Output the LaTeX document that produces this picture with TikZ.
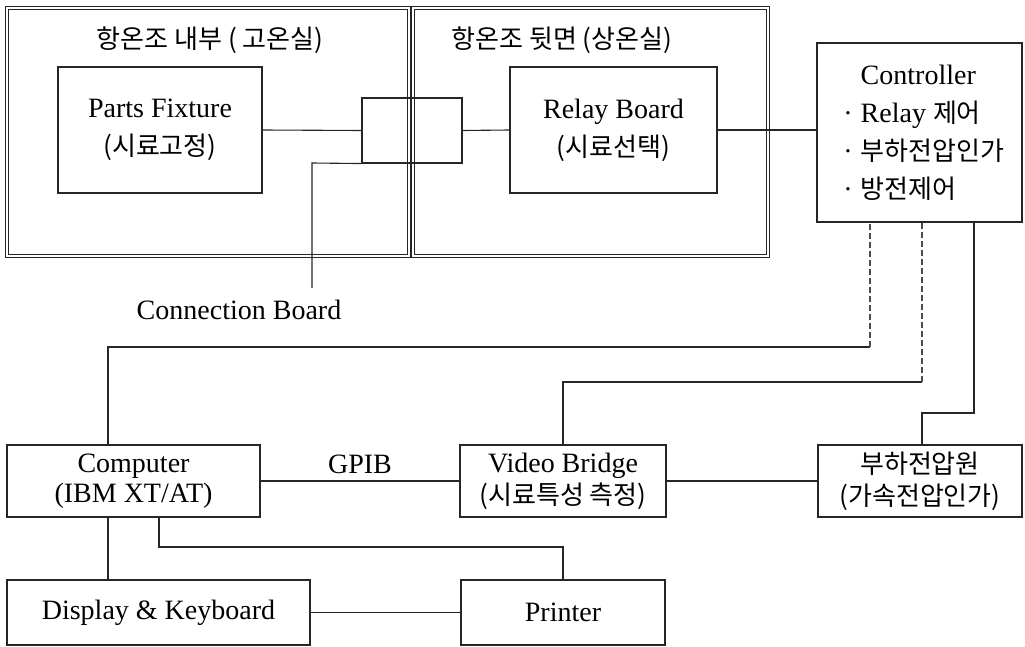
\documentclass[tikz,border=0pt]{standalone}
\usepackage{fontspec}
\setmainfont{Liberation Serif}
\newfontfamily\krfont{Noto Sans CJK KR}[Scale=0.93]
\newcommand\K[1]{{\krfont #1}}
\usetikzlibrary{calc}
\begin{document}
\begin{tikzpicture}[x=0.5pt,y=-0.5pt,
  font=\fontsize{14}{19}\selectfont,
  line/.style={draw=black!85, line width=0.55pt},
  dashline/.style={draw=black!70, line width=0.55pt, dash pattern=on 3pt off 1.5pt},
  box/.style={draw=black!85, line width=0.55pt, rectangle, inner sep=0pt, align=center},
  chamber/.style={draw=black!85, line width=0.5pt, double=white, double distance=1.3pt, rectangle, inner sep=0pt},
  txt/.style={inner sep=0pt, align=center}]
\useasboundingbox (0,0) rectangle (1025,647);

% chambers
\node[chamber, minimum width=201pt, minimum height=124pt] (chA) at (208,132) {};
\node[chamber, minimum width=177.5pt, minimum height=124pt] (chB) at (590.5,132) {};
\node[txt] (tA) at (210,40) {\K{항온조 내부 ( 고온실)}};
\node[txt] (tB) at (562,40) {\K{항온조 뒷면 (상온실)}};

% top boxes
\node[box, minimum width=102pt, minimum height=63pt] (pf) at (160,130) {Parts Fixture\\\K{(시료고정)}};
\node[box, minimum width=103.5pt, minimum height=63pt] (rb) at (613.5,130) {Relay Board\\\K{(시료선택)}};
\node[box, minimum width=50pt, minimum height=32.5pt] (cb) at (412,130.5) {};
\node[box, minimum width=102.5pt, minimum height=89.5pt] (ctrl) at (919.5,132.5) {};
\node[anchor=west, inner sep=0pt] (ctrltxt) at (843,134) {\begin{tabular}{@{}l@{\hspace{4pt}}l@{}}
 & Controller\\
· & Relay \K{제어}\\
· & \K{부하전압인가}\\
· & \K{방전제어}
\end{tabular}};
\node[txt] (cbl) at (239,310) {Connection Board};

% bottom boxes
\node[box, minimum width=126.5pt, minimum height=36pt] (comp) at (133.5,481) {Computer\\[-4pt](IBM XT/AT)};
\node[box, minimum width=103pt, minimum height=36pt] (vb) at (563,481) {Video Bridge\\[-3pt]\K{(시료특성 측정)}};
\node[box, minimum width=102pt, minimum height=36pt] (hv) at (920,481) {\K{부하전압원}\\[-3pt]\K{(가속전압인가)}};
\node[box, minimum width=151.5pt, minimum height=32.5pt] (disp) at (158.5,612.5) {Display \& Keyboard};
\node[box, minimum width=102pt, minimum height=32.5pt] (prn) at (563,612.5) {Printer};

% helper coordinates
\coordinate (x108) at (108,0);
\coordinate (x159) at (159,0);
\coordinate (k1) at (870,347);
\coordinate (k2) at (922,382);
\coordinate (k3) at (974,413);
\coordinate (k4) at (922,413);
\coordinate (k5) at (563,547);
\coordinate (lead) at (312,163);
\coordinate (leadend) at (312,288);

% connectors
\draw[line] (pf.east) -- (cb.west);
\draw[line] (cb.east) -- (rb.west);
\draw[line] (rb.east) -- (rb.east -| ctrl.west);
\draw[line] (cb.south west) -- (lead) -- (leadend);
\draw[line] (comp.north -| x108) |- (k1);
\draw[dashline] (k1) -- (ctrl.south -| k1);
\draw[line] (vb.north) |- (k2);
\draw[dashline] (k2) -- (ctrl.south -| k2);
\draw[line] (ctrl.south -| k3) -- (k3) -- (k4) -- (hv.north -| k4);
\draw[line] (comp.east) -- node[above] (gpib) {GPIB} (vb.west);
\draw[line] (vb.east) -- (hv.west);
\draw[line] (comp.south -| x108) -- (disp.north -| x108);
\draw[line] (comp.south -| x159) |- (k5) -- (prn.north);
\draw[line] (disp.east) -- (prn.west);
\end{tikzpicture}
\end{document}
